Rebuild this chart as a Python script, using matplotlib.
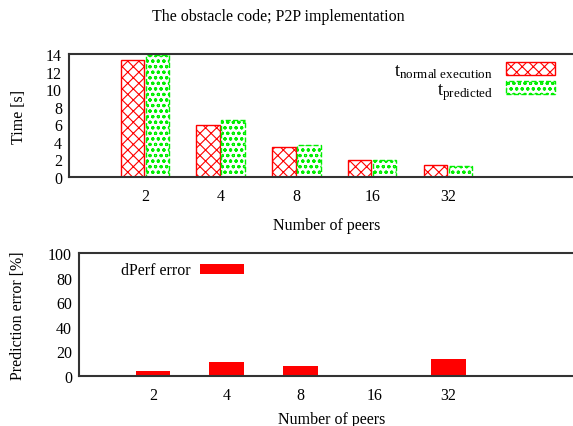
import matplotlib
matplotlib.use('Agg')

import numpy as np
import matplotlib.pyplot as plt

peers = ['2', '4', '8', '16', '32']
t_normal = [13.35, 5.9, 3.39, 1.98, 1.41]
t_predicted = [13.92, 6.54, 3.69, 1.98, 1.22]
error_pct = [4.1, 11.6, 7.8, 0.3, 13.5]

plt.rcParams['font.family'] = 'Liberation Serif'
plt.rcParams['font.size'] = 11.5
plt.rcParams['hatch.linewidth'] = 0.8
plt.rcParams['mathtext.fontset'] = 'custom'
plt.rcParams['mathtext.rm'] = 'Liberation Serif'
plt.rcParams['mathtext.it'] = 'Liberation Serif'

fig = plt.figure(figsize=(5.73, 4.27), dpi=100)
W, H = 573.0, 427.0

def style(ax):
    for s in ['top', 'left', 'bottom']:
        ax.spines[s].set_linewidth(1.5)
        ax.spines[s].set_color('#333333')
    ax.spines['right'].set_visible(False)
    ax.tick_params(length=0)
    ax.tick_params(axis='x', pad=8)
    ax.tick_params(axis='y', pad=5)

x = np.arange(len(peers))

# top panel: times
ax1 = fig.add_axes([69 / W, 1 - 178 / H, 1.02 - 69 / W, (178 - 55) / H])
style(ax1)
ax1.bar(x - 0.165, t_normal, width=0.31, facecolor='white', edgecolor='#ff0000',
        hatch='xxx', linewidth=1.0, label=r'$\mathregular{t_{normal\ execution}}$')
ax1.bar(x + 0.165, t_predicted, width=0.31, facecolor='white', edgecolor='#00ee00',
        hatch='ooo', linewidth=1.0, linestyle='--', label=r'$\mathregular{t_{predicted}}$')
ax1.set_xlim(-1, 5.8)
ax1.set_ylim(0, 14)
ax1.set_yticks(range(0, 15, 2))
ax1.set_xticks(x)
ax1.set_xticklabels(peers)
ax1.set_ylabel('Time [s]', labelpad=14)
ax1.set_xlabel('Number of peers', labelpad=9)
leg1 = ax1.legend(loc='upper right', bbox_to_anchor=(0.975, 1.07), frameon=False, markerfirst=False,
                  handlelength=2.6, handleheight=0.65, labelspacing=0.05, fontsize=13.5,
                  handletextpad=0.7)
for t in leg1.get_texts():
    t.set_ha('right')
fig.text(0.485, 1 - 17 / H, 'The obstacle code; P2P implementation', ha='center', va='center',
         fontsize=11.5)

# bottom panel: prediction error
ax2 = fig.add_axes([79 / W, 1 - 377 / H, 1.02 - 79 / W, (377 - 254) / H])
style(ax2)
ax2.bar(x, error_pct, width=0.47, color='#ff0000', label='dPerf error')
ax2.set_xlim(-1, 5.84)
ax2.set_ylim(0, 100)
ax2.set_yticks(range(0, 101, 20))
ax2.set_xticks(x)
ax2.set_xticklabels(peers)
ax2.set_ylabel('Prediction error [%]', labelpad=16)
ax2.set_xlabel('Number of peers', labelpad=6)
ax2.legend(loc='upper left', bbox_to_anchor=(0.055, 1.04), frameon=False, markerfirst=False,
           handlelength=2.7, handleheight=0.65, fontsize=11.5, handletextpad=0.6)

fig.savefig('out.png', dpi=100)
